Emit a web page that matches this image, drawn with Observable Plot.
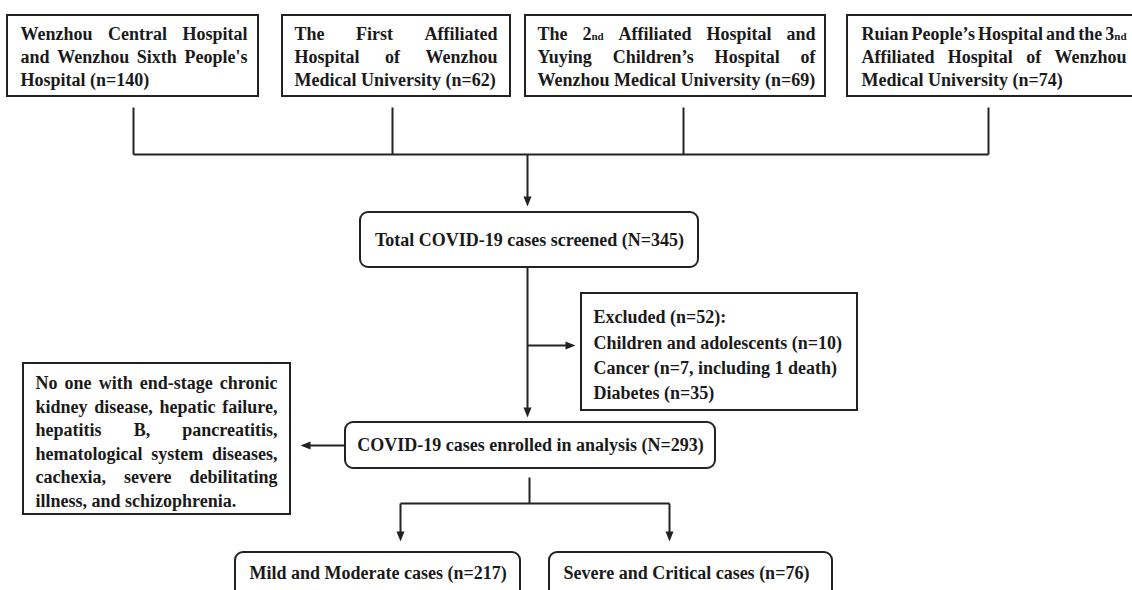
<!DOCTYPE html>
<html>
<head>
<meta charset="utf-8">
<script src="https://cdn.jsdelivr.net/npm/d3@7"></script>
<script src="https://cdn.jsdelivr.net/npm/@observablehq/plot@0.6"></script>
<style>
html, body { margin: 0; padding: 0; background: #fff; overflow: hidden; }
</style>
</head>
<body>
<div id="chart"></div>
<script>
// ---------------- DATA ----------------
const hospitalCounts = [140, 62, 69, 74];
const hospitalLines = [
  ["Wenzhou Central Hospital", "and Wenzhou Sixth People's", "Hospital (n={n})"],
  ["The First Affiliated", "Hospital of Wenzhou", "Medical University (n={n})"],
  ["The 2^nd Affiliated Hospital and", "Yuying Children\u2019s Hospital of", "Wenzhou Medical University (n={n})"],
  ["Ruian People\u2019s Hospital and the 3^nd", "Affiliated Hospital of Wenzhou", "Medical University (n={n})"]
];
const screenedTotal = 345;
const excludedTotal = 52;
const exclusionLabels = ["Children and adolescents", "Cancer", "Diabetes"];
const exclusionCounts = [10, 7, 35];
const exclusionNotes = ["", ", including 1 death", ""];
const enrolledTotal = 293;
const noneLines = [
  "No one with end-stage chronic",
  "kidney disease, hepatic failure,",
  "hepatitis B, pancreatitis,",
  "hematological system diseases,",
  "cachexia, severe debilitating",
  "illness, and schizophrenia."
];
const severityGroups = ["Mild and Moderate cases", "Severe and Critical cases"];
const severityCounts = [217, 76];

// ---------------- LAYOUT ----------------
const W = 1132, H = 590;
const FONT = '"Liberation Serif", "Times New Roman", serif';
const FS = 18, FS_SMALL = 11;
const INK = "#222";
const ctx = document.createElement("canvas").getContext("2d");
function measure(s, size) { ctx.font = `bold ${size}px ${FONT}`; return ctx.measureText(s).width; }

const words = [];      // normal-size word pieces
const smallWords = []; // small suffix pieces (e.g. "nd")

function tokenInfo(tok) {
  const [main, small] = tok.split("^");
  const wm = measure(main, FS);
  const ws = small ? measure(small, FS_SMALL) : 0;
  return {main, small, wm, w: wm + ws};
}
function placeToken(t, x, y) {
  words.push({x, y, text: t.main});
  if (t.small) smallWords.push({x: x + t.wm, y: y + 0.32 * (FS - FS_SMALL), text: t.small});
}
function layoutParagraph(lines, x0, x1, y0, dy) {
  const space = measure(" ", FS);
  lines.forEach((line, i) => {
    const toks = line.split(" ").map(tokenInfo);
    const y = y0 + i * dy;
    const total = d3.sum(toks, t => t.w);
    let gap = space;
    const last = i === lines.length - 1;
    if (toks.length > 1) {
      const g = (x1 - x0 - total) / (toks.length - 1);
      if (!last || g < space) gap = Math.max(g, 2);
    }
    let x = x0;
    toks.forEach(t => { placeToken(t, x, y); x += t.w + gap; });
  });
}

const squareBoxes = [];
const roundBoxes = [];
const segments = [];
const heads = [];
function arrow(x1, y1, x2, y2) {
  const dx = Math.sign(x2 - x1), dy = Math.sign(y2 - y1);
  segments.push({x1, y1, x2: x2 - dx * 5, y2: y2 - dy * 5});
  const angle = dy > 0 ? 180 : dy < 0 ? 0 : dx > 0 ? 90 : -90;
  heads.push({x: x2, y: y2, angle});
}

// top hospital boxes
const topGeom = [
  {x1: 7, x2: 258, tx0: 20, tx1: 247, cx: 133},
  {x1: 282, x2: 510, tx0: 294, tx1: 497, cx: 392},
  {x1: 525, x2: 825, tx0: 537, tx1: 815, cx: 683},
  {x1: 847, x2: 1150, tx0: 861, tx1: 1126, cx: 988}
];
hospitalLines.forEach((lines, i) => {
  const g = topGeom[i];
  squareBoxes.push({x1: g.x1, x2: g.x2, y1: 15, y2: 96});
  layoutParagraph(lines.map(l => l.replace("{n}", hospitalCounts[i])), g.tx0, g.tx1, 34, 23);
  segments.push({x1: g.cx, y1: 107, x2: g.cx, y2: 154});
});
segments.push({x1: topGeom[0].cx, y1: 154, x2: topGeom[3].cx, y2: 154});
arrow(527, 154, 527, 206);

// screened box
const centered = [];
roundBoxes.push({x1: 360, x2: 698, y1: 212, y2: 267});
centered.push({x: 529, y: 240, text: `Total COVID-19 cases screened (N=${screenedTotal})`});

// main vertical to enrolled
arrow(527, 267, 527, 417);

// excluded box
squareBoxes.push({x1: 581, x2: 857, y1: 293, y2: 410});
arrow(527, 345, 575, 345);
const excludedLines = [`Excluded (n=${excludedTotal}):`].concat(
  exclusionLabels.map((l, i) => `${l} (n=${exclusionCounts[i]}${exclusionNotes[i]})`)
);
excludedLines.forEach((l, i) => words.push({x: 593, y: 317 + i * 25.3, text: l}));

// enrolled box
roundBoxes.push({x1: 345, x2: 715, y1: 422, y2: 468});
centered.push({x: 530, y: 445, text: `COVID-19 cases enrolled in analysis (N=${enrolledTotal})`});
arrow(345, 445, 300, 445);

// "no one with" box
squareBoxes.push({x1: 23, x2: 290, y1: 363, y2: 514});
layoutParagraph(noneLines, 35, 277, 383, 23.5);

// split to severity groups
segments.push({x1: 529, y1: 477, x2: 529, y2: 503});
segments.push({x1: 400, y1: 503, x2: 669, y2: 503});
arrow(400, 503, 400, 541);
arrow(669, 503, 669, 541);
const sevGeom = [{x1: 235, x2: 520}, {x1: 549, x2: 832}];
severityGroups.forEach((g, i) => {
  roundBoxes.push({x1: sevGeom[i].x1, x2: sevGeom[i].x2, y1: 552, y2: 640});
  words.push({x: sevGeom[i].x1 + 14, y: 573, text: `${g} (n=${severityCounts[i]})`});
});

// filled arrowhead symbol, tip at origin pointing up
const arrowHead = {
  draw(context) {
    context.moveTo(0, 0);
    context.lineTo(-4, 10);
    context.lineTo(4, 10);
    context.closePath();
  }
};

const textOpts = {fontFamily: FONT, fontWeight: "bold", fill: "#1a1a1a"};

const chart = Plot.plot({
  width: W,
  height: H,
  margin: 0,
  x: {domain: [0, W], range: [0, W], axis: null},
  y: {domain: [0, H], range: [0, H], axis: null},
  style: {background: "white", overflow: "hidden"},
  marks: [
    Plot.link(segments, {x1: "x1", y1: "y1", x2: "x2", y2: "y2", stroke: INK, strokeWidth: 2}),
    Plot.dot(heads, {x: "x", y: "y", rotate: "angle", symbol: arrowHead, r: 5, fill: INK, stroke: "none"}),
    Plot.rect(squareBoxes, {x1: "x1", x2: "x2", y1: "y1", y2: "y2", fill: "white", stroke: INK, strokeWidth: 2}),
    Plot.rect(roundBoxes, {x1: "x1", x2: "x2", y1: "y1", y2: "y2", fill: "white", stroke: INK, strokeWidth: 2, rx: 8, ry: 8}),
    Plot.text(words, {x: "x", y: "y", text: "text", textAnchor: "start", fontSize: FS, ...textOpts}),
    Plot.text(smallWords, {x: "x", y: "y", text: "text", textAnchor: "start", fontSize: FS_SMALL, ...textOpts}),
    Plot.text(centered, {x: "x", y: "y", text: "text", textAnchor: "middle", fontSize: FS, ...textOpts})
  ]
});
document.getElementById("chart").appendChild(chart);
</script>
</body>
</html>
